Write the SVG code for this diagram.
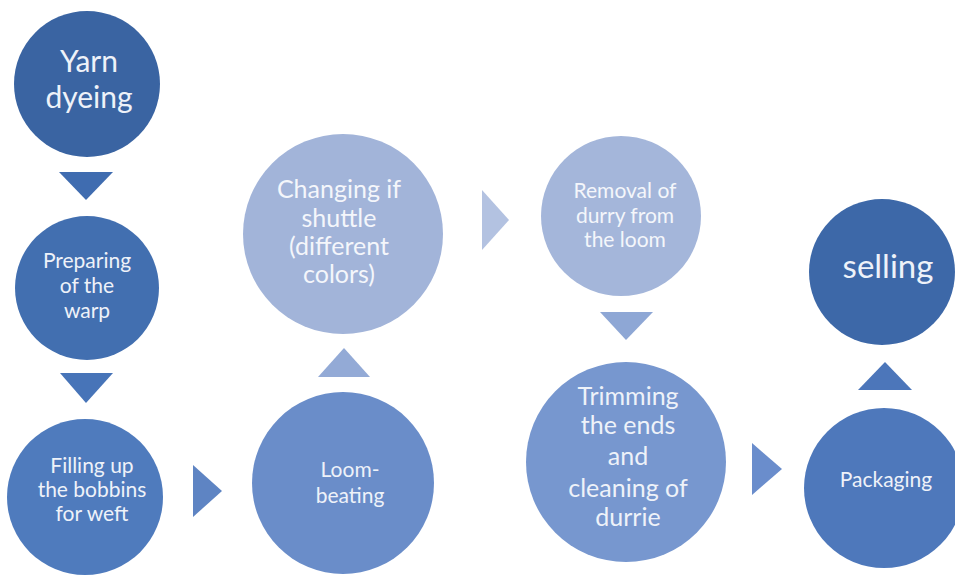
<svg xmlns="http://www.w3.org/2000/svg" width="955" height="576" viewBox="0 0 955 576">
<style>
text{font-family:Lato,"Open Sans","Liberation Sans",sans-serif;fill:#eef2f9;text-anchor:middle}
.lt text{fill:#f4f6fb}
</style>
<rect width="955" height="576" fill="#ffffff"/>
<g id="connectors">
<polygon points="59,172 113,172 86,200" fill="#3f6cb0"/>
<polygon points="60,373 113,373 86,403" fill="#4774b8"/>
<polygon points="193,465 193,517 222,491" fill="#5e84c3"/>
<polygon points="318,377 370,377 344,348" fill="#93aad6"/>
<polygon points="482,190 482,250 509,220" fill="#b3c2e1"/>
<polygon points="600,312 653,312 626,340" fill="#8ea7d5"/>
<polygon points="752,443 752,495 782,469" fill="#6a8dcc"/>
<polygon points="858,390 912,390 885,362" fill="#4c76ba"/>
</g>
<g id="yarn-dyeing">
<circle cx="87" cy="84" r="73" fill="#3a64a2"/>
<text x="89" y="72" font-size="30">Yarn</text>
<text x="89" y="108" font-size="30">dyeing</text>
</g>
<g id="preparing">
<circle cx="87" cy="288" r="72" fill="#426fb0"/>
<text x="87" y="268" font-size="21">Preparing</text>
<text x="87" y="293" font-size="21">of the</text>
<text x="87" y="318" font-size="21">warp</text>
</g>
<g id="filling">
<circle cx="85" cy="497" r="78" fill="#4f7bbd"/>
<text x="92" y="473" font-size="21">Filling up</text>
<text x="92" y="497" font-size="21">the bobbins</text>
<text x="92" y="521" font-size="21">for weft</text>
</g>
<g id="loom-beating">
<circle cx="343" cy="483" r="91" fill="#6a8dc9"/>
<text x="350" y="477" font-size="21">Loom-</text>
<text x="350" y="503" font-size="21">beating</text>
</g>
<g id="changing" class="lt">
<circle cx="343" cy="234" r="100" fill="#a2b4d9"/>
<text x="339" y="198" font-size="25">Changing if</text>
<text x="339" y="227" font-size="25">shuttle</text>
<text x="339" y="255" font-size="25">(different</text>
<text x="339" y="283" font-size="25">colors)</text>
</g>
<g id="removal" class="lt">
<circle cx="621" cy="216" r="80" fill="#a4b6da"/>
<text x="625" y="198" font-size="21">Removal of</text>
<text x="625" y="223" font-size="21">durry from</text>
<text x="625" y="247" font-size="21">the loom</text>
</g>
<g id="trimming">
<circle cx="626" cy="462" r="100" fill="#7797cf"/>
<text x="628" y="405" font-size="25">Trimming</text>
<text x="628" y="434" font-size="25">the ends</text>
<text x="628" y="465" font-size="25">and</text>
<text x="628" y="497" font-size="25">cleaning of</text>
<text x="628" y="526" font-size="25">durrie</text>
</g>
<g id="packaging">
<circle cx="884" cy="488" r="80" fill="#4e78bb"/>
<text x="886" y="487" font-size="21">Packaging</text>
</g>
<g id="selling">
<circle cx="882" cy="272" r="73" fill="#3d68a8"/>
<text x="888" y="278" font-size="33">selling</text>
</g>
</svg>
